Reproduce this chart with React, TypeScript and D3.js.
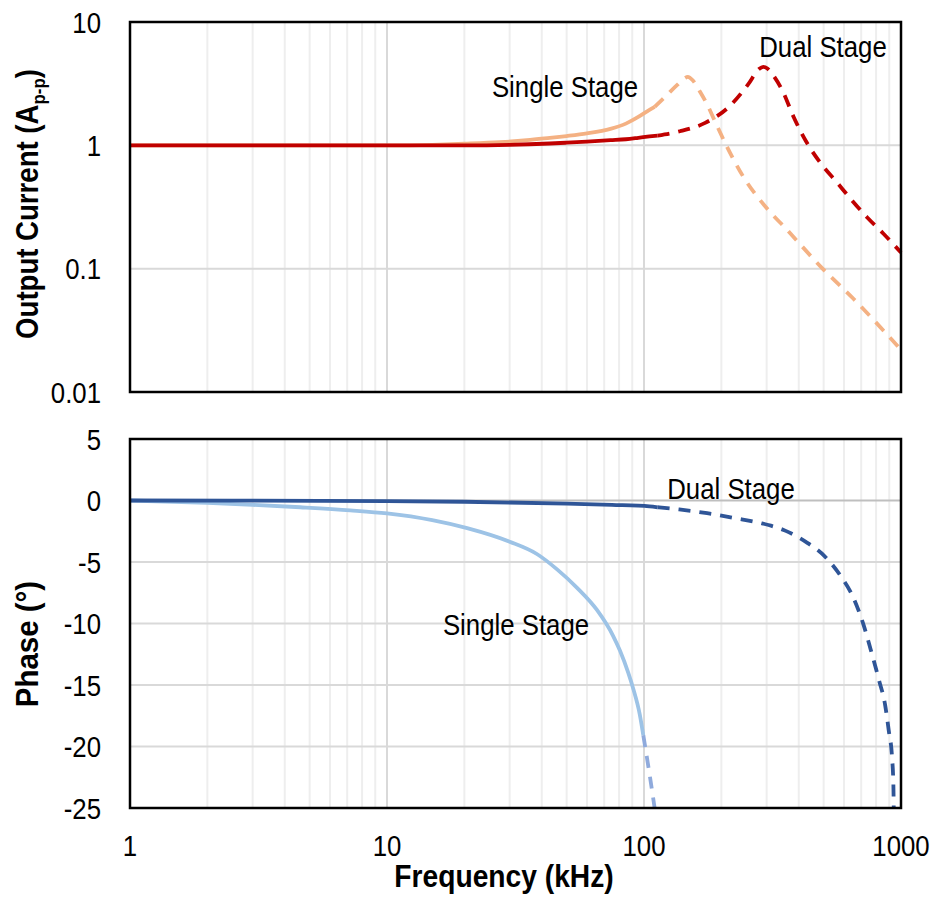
import React from "react";
import * as d3 from "d3";

// ---------- DATA ----------
// Amplitude (A p-p) vs frequency (kHz)
const ampSingleSolidF = [1, 5, 10, 15, 20, 27.5, 35, 43, 50, 60, 74, 85, 95, 105, 110];
const ampSingleSolidV = [1, 1, 1, 1.01, 1.03, 1.06, 1.1, 1.15, 1.19, 1.25, 1.36, 1.5, 1.7, 1.94, 2.05];
const ampSingleDashF = [110, 123, 135, 144, 148, 155, 165, 178, 189, 210, 243, 300, 359, 491, 653, 1000];
const ampSingleDashV = [2.05, 2.57, 3.1, 3.5, 3.59, 3.35, 2.73, 2.05, 1.56, 0.98, 0.56, 0.31, 0.208, 0.102, 0.057, 0.022];

const ampDualSolidF = [1, 10, 20, 30, 43, 50, 60, 74, 85, 95, 105, 113];
const ampDualSolidV = [1, 1, 1, 1.01, 1.035, 1.05, 1.07, 1.1, 1.12, 1.15, 1.18, 1.2];
const ampDualDashF = [113, 138, 173, 216, 255, 280, 291, 302, 315, 347, 381, 427, 491, 559, 643, 739, 853, 1000];
const ampDualDashV = [1.2, 1.3, 1.52, 2.09, 3.15, 4.15, 4.33, 4.2, 3.8, 2.73, 1.72, 1.08, 0.7, 0.51, 0.36, 0.26, 0.193, 0.135];

// Phase (deg) vs frequency (kHz)
const phSingleSolidF = [1, 2, 3, 4.6, 7.2, 10, 15, 20.5, 30, 38.3, 45.9, 54.9, 65.6, 75.8, 80.6, 86.8, 90.8, 96.3, 99.4];
const phSingleSolidV = [0, -0.2, -0.35, -0.55, -0.8, -1.05, -1.6, -2.25, -3.35, -4.35, -5.6, -7.1, -8.9, -11.0, -12.2, -14.0, -15.3, -17.4, -19.1];
const phSingleDashF = [99.4, 105, 110];
const phSingleDashV = [-19.1, -22.2, -25];

const phDualSolidF = [1, 10, 20, 50, 75, 105, 113];
const phDualSolidV = [0, -0.05, -0.1, -0.25, -0.35, -0.47, -0.55];
const phDualDashF = [113, 137, 176, 226, 285, 356, 432, 509, 583, 653, 713, 762, 821, 867, 896, 923, 934, 937];
const phDualDashV = [-0.55, -0.73, -1.03, -1.44, -1.84, -2.47, -3.44, -4.61, -6.15, -7.91, -10.03, -12.11, -14.6, -16.6, -18.7, -20.9, -23.1, -25];

const xTicks = [1, 10, 100, 1000];
const xTickLabels = ["1", "10", "100", "1000"];
const ampTicks = [10, 1, 0.1, 0.01];
const ampTickLabels = ["10", "1", "0.1", "0.01"];
const phTicks = [5, 0, -5, -10, -15, -20, -25];
const phTickLabels = ["5", "0", "-5", "-10", "-15", "-20", "-25"];

// ---------- LAYOUT ----------
const W = 934, H = 898;
const L = 130, R = 901;
const topT = 22, topB = 392;
const botT = 439, botB = 808;

const FONT = "'Liberation Sans', Arial, sans-serif";
const SX = 0.86; // narrow font emulation

const x = d3.scaleLog().domain([1, 1000]).range([L, R]);
const yAmp = d3.scaleLog().domain([0.01, 10]).range([topB, topT]);
const yPh = d3.scaleLinear().domain([-25, 5]).range([botB, botT]);

const minorF: number[] = [];
[1, 10, 100].forEach((d) => {
  for (let k = 2; k <= 9; k++) minorF.push(d * k);
});

function linePath(fs: number[], vs: number[], y: (v: number) => number) {
  const pts = fs.map((f, i) => [x(f), y(vs[i])] as [number, number]);
  return d3.line().curve(d3.curveMonotoneX)(pts) || "";
}

function T(props: {
  x: number; y: number; sx?: number; rot?: boolean; anchor?: string; size?: number; bold?: boolean; dy?: string; children: React.ReactNode;
}) {
  const { x: tx, y: ty, sx = SX, rot = false, anchor = "middle", size = 30, bold = false, dy, children } = props;
  return (
    <text
      transform={`translate(${tx},${ty})${rot ? " rotate(-90)" : ""} scale(${sx},1)`}
      textAnchor={anchor as any}
      fontSize={size}
      fontWeight={bold ? "bold" : "normal"}
      dy={dy}
      fill="#000"
    >
      {children}
    </text>
  );
}

export default function App() {
  const ampY = (v: number) => yAmp(v);
  const phY = (v: number) => yPh(v);
  const lw = 3.8;
  const dash = "12,9";
  return (
    <svg width={W} height={H} style={{ position: "absolute", left: 0, top: 0, background: "#fff" }} fontFamily={FONT}>
      <rect x={0} y={0} width={W} height={H} fill="#fff" />
      {/* ---- grids ---- */}
      {[[topT, topB], [botT, botB]].map(([t, b], gi) => (
        <g key={"g" + gi}>
          {minorF.map((f) => (
            <line key={f} x1={x(f)} x2={x(f)} y1={t} y2={b} stroke="#eeeeee" strokeWidth={2} />
          ))}
          {[10, 100].map((f) => (
            <line key={"M" + f} x1={x(f)} x2={x(f)} y1={t} y2={b} stroke="#d9d9d9" strokeWidth={2} />
          ))}
        </g>
      ))}
      {[1, 0.1].map((v) => (
        <line key={"ha" + v} x1={L} x2={R} y1={yAmp(v)} y2={yAmp(v)} stroke="#d9d9d9" strokeWidth={2} />
      ))}
      {[-5, -10, -15, -20].map((v) => (
        <line key={"hp" + v} x1={L} x2={R} y1={yPh(v)} y2={yPh(v)} stroke="#d9d9d9" strokeWidth={2} />
      ))}
      <line x1={L} x2={R} y1={yPh(0)} y2={yPh(0)} stroke="#bfbfbf" strokeWidth={2} />

      {/* ---- amplitude series ---- */}
      <g fill="none" strokeWidth={lw}>
        <path d={linePath(ampSingleSolidF, ampSingleSolidV, ampY)} stroke="#F4B183" />
        <path d={linePath(ampSingleDashF, ampSingleDashV, ampY)} stroke="#F4B183" strokeDasharray={dash} />
        <path d={linePath(ampDualSolidF, ampDualSolidV, ampY)} stroke="#C00000" />
        <path d={linePath(ampDualDashF, ampDualDashV, ampY)} stroke="#C00000" strokeDasharray={dash} />
      </g>
      {/* ---- phase series ---- */}
      <g fill="none" strokeWidth={lw}>
        <path d={linePath(phSingleSolidF, phSingleSolidV, phY)} stroke="#9DC3E6" />
        <path d={linePath(phSingleDashF, phSingleDashV, phY)} stroke="#8FAADC" strokeDasharray={dash} />
        <path d={linePath(phDualSolidF, phDualSolidV, phY)} stroke="#2F5597" />
        <path d={linePath(phDualDashF, phDualDashV, phY)} stroke="#2F5597" strokeDasharray={dash} />
      </g>

      {/* ---- frames ---- */}
      <rect x={L} y={topT} width={R - L} height={topB - topT} fill="none" stroke="#000" strokeWidth={2.5} />
      <rect x={L} y={botT} width={R - L} height={botB - botT} fill="none" stroke="#000" strokeWidth={2.5} />

      {/* ---- tick labels ---- */}
      {ampTicks.map((v, i) => (
        <T key={"at" + v} x={101} y={yAmp(v)} dy="0.36em" anchor="end">{ampTickLabels[i]}</T>
      ))}
      {phTicks.map((v, i) => (
        <T key={"pt" + v} x={101} y={yPh(v)} dy="0.36em" anchor="end">{phTickLabels[i]}</T>
      ))}
      {xTicks.map((f, i) => (
        <T key={"xt" + f} x={x(f)} y={856}>{xTickLabels[i]}</T>
      ))}

      {/* ---- series labels ---- */}
      <T x={565} y={97}>Single Stage</T>
      <T x={823} y={57}>Dual Stage</T>
      <T x={731} y={499}>Dual Stage</T>
      <T x={516} y={635}>Single Stage</T>

      {/* ---- axis titles ---- */}
      <T x={504} y={887} size={31} bold sx={0.91}>Frequency (kHz)</T>
      <T x={38} y={204} size={31} bold sx={0.89} rot>
        Output Current (A<tspan fontSize={19} dy={7}>p-p</tspan><tspan dy={-7}>)</tspan>
      </T>
      <T x={38} y={644} size={31} bold sx={0.95} rot>Phase (°)</T>
    </svg>
  );
}
